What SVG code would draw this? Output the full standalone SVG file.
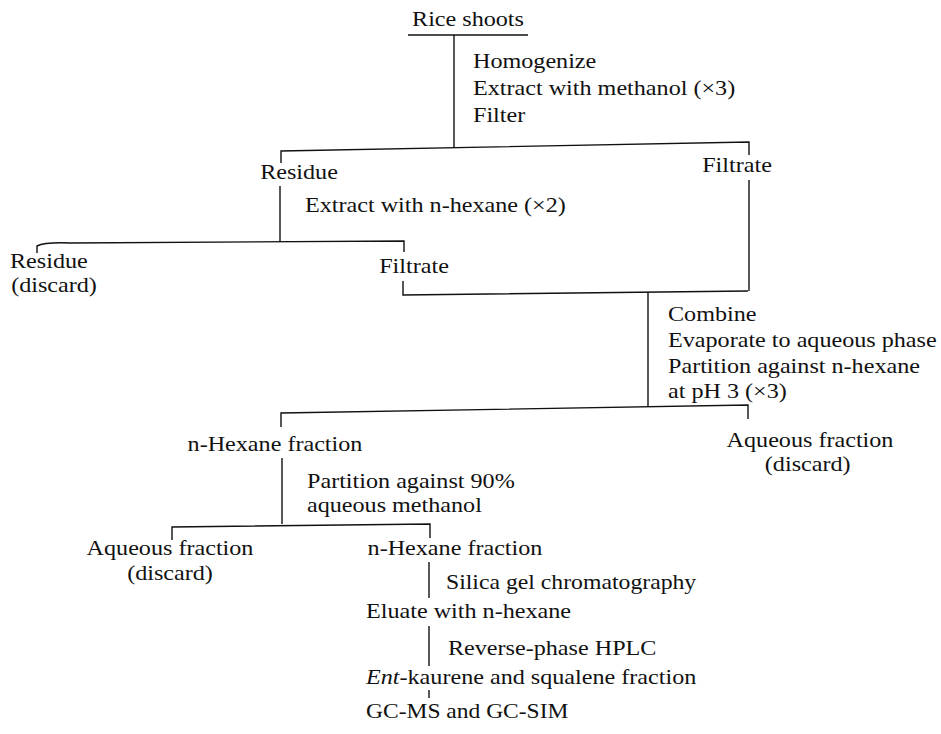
<svg xmlns="http://www.w3.org/2000/svg" width="941" height="734" viewBox="0 0 941 734">
<style>
text{font-family:"Liberation Serif","Times New Roman",serif;font-size:21px;fill:#111}
.c{text-anchor:middle}
.ln{stroke:#111;stroke-width:1.4;fill:none}
</style>
<rect width="941" height="734" fill="#fff"/>
<g id="connectors" class="ln">
<path d="M408 35H528"/>
<path d="M454 35V148"/>
<path d="M281 163V151L749 142V155"/>
<path d="M280 186V242"/>
<path d="M749 180V291"/>
<path d="M37 253V246Q45 242 70 243L404 241V252"/>
<path d="M403 281V295L748 291"/>
<path d="M648 292V407"/>
<path d="M281 427V413L748 405V419"/>
<path d="M282 458V524"/>
<path d="M172 540V527L430 524V538"/>
<path d="M429 562V598"/>
<path d="M429 626V666"/>
<path d="M429 690V698"/>
</g>
<g id="rice-shoots" transform="translate(468 0) scale(1.15 1)"><text y="26" class="c">Rice shoots</text></g>
<g id="step1" transform="translate(473 0) scale(1.15 1)"><text y="68">Homogenize</text><text y="95">Extract with methanol (×3)</text><text y="122">Filter</text></g>
<g id="residue1" transform="translate(299 0) scale(1.15 1)"><text y="179" class="c">Residue</text></g>
<g id="filtrate1" transform="translate(737 0) scale(1.15 1)"><text y="172" class="c">Filtrate</text></g>
<g id="step2" transform="translate(305 0) scale(1.15 1)"><text y="212">Extract with n-hexane (×2)</text></g>
<g id="residue2" transform="translate(10 0) scale(1.15 1)"><text y="268">Residue</text><text x="1" y="292">(discard)</text></g>
<g id="filtrate2" transform="translate(414 0) scale(1.15 1)"><text y="273" class="c">Filtrate</text></g>
<g id="step3" transform="translate(668 0) scale(1.15 1)"><text y="321">Combine</text><text y="347">Evaporate to aqueous phase</text><text y="373">Partition against n-hexane</text><text y="398">at pH 3 (×3)</text></g>
<g id="hexane1" transform="translate(275 0) scale(1.15 1)"><text y="451" class="c">n-Hexane fraction</text></g>
<g id="aqueous1" transform="translate(810 0) scale(1.15 1)"><text y="447" class="c">Aqueous fraction</text><text x="-2" y="471" class="c">(discard)</text></g>
<g id="step4" transform="translate(307 0) scale(1.15 1)"><text y="488">Partition against 90%</text><text y="512">aqueous methanol</text></g>
<g id="aqueous2" transform="translate(170 0) scale(1.15 1)"><text y="555" class="c">Aqueous fraction</text><text y="580" class="c">(discard)</text></g>
<g id="hexane2" transform="translate(455 0) scale(1.15 1)"><text y="555" class="c">n-Hexane fraction</text></g>
<g id="step5" transform="translate(446 0) scale(1.13 1)"><text y="589">Silica gel chromatography</text></g>
<g id="eluate" transform="translate(366 0) scale(1.15 1)"><text y="618">Eluate with n-hexane</text></g>
<g id="step6" transform="translate(448 0) scale(1.15 1)"><text y="655">Reverse-phase HPLC</text></g>
<g id="fraction" transform="translate(366 0) scale(1.15 1)"><text y="684"><tspan font-style="italic">Ent</tspan>-kaurene and squalene fraction</text></g>
<g id="gcms" transform="translate(366 0) scale(1.12 1)"><text y="718">GC-MS and GC-SIM</text></g>
</svg>
